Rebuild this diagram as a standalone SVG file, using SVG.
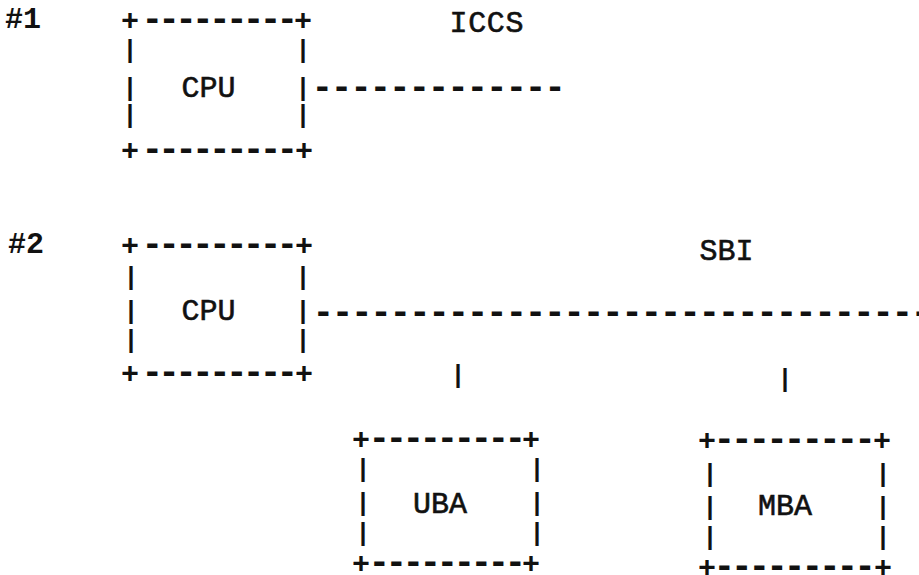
<svg xmlns="http://www.w3.org/2000/svg" width="919" height="575" viewBox="0 0 919 575">
<style>
text{font-family:"Liberation Mono","Courier New",monospace;fill:#111}
.p{font-size:30px;font-weight:bold;text-anchor:middle}
.b{font-size:25px;font-weight:bold;text-anchor:middle}
.d{font-size:36px;font-weight:bold;text-anchor:start}
.l{font-size:30px;stroke:#111;stroke-width:0.6;text-anchor:middle}
.n{font-size:30px;font-weight:bold;text-anchor:start}
</style>
<rect width="919" height="575" fill="#fff"/>
<g id="label1"><text class="n" x="5" y="28" textLength="36" lengthAdjust="spacing">#1</text></g>
<g id="label2"><text class="n" x="8" y="253" textLength="36" lengthAdjust="spacing">#2</text></g>
<g id="cpu1">
<text class="p" x="130" y="30.4">+</text><text class="d" x="141.4" y="29.9" style="letter-spacing:-4.7px">---------</text><text class="p" x="303" y="30.4">+</text>
<text class="b" x="130" y="58">|</text><text class="b" x="303" y="58">|</text>
<text class="b" x="130" y="96">|</text><text class="b" x="303" y="96">|</text>
<text class="l" x="208.5" y="97">CPU</text>
<text class="b" x="130" y="123">|</text><text class="b" x="303" y="123">|</text>
<text class="p" x="130" y="160.4">+</text><text class="d" x="141.4" y="159.9" style="letter-spacing:-4.7px">---------</text><text class="p" x="304" y="160.4">+</text>
</g>
<g id="cpu2">
<text class="p" x="130" y="255.4">+</text><text class="d" x="141.4" y="254.9" style="letter-spacing:-4.7px">---------</text><text class="p" x="304" y="255.4">+</text>
<text class="b" x="131" y="285">|</text><text class="b" x="303" y="285">|</text>
<text class="b" x="131" y="319">|</text><text class="b" x="303" y="319">|</text>
<text class="l" x="208.5" y="320">CPU</text>
<text class="b" x="131" y="348">|</text><text class="b" x="303" y="348">|</text>
<text class="p" x="130" y="383.4">+</text><text class="d" x="141.4" y="382.9" style="letter-spacing:-4.7px">---------</text><text class="p" x="304" y="383.4">+</text>
</g>
<g id="uba">
<text class="p" x="361" y="449.4">+</text><text class="d" x="368.4" y="448.9" style="letter-spacing:-4.6px">---------</text><text class="p" x="531" y="449.4">+</text>
<text class="b" x="363" y="477">|</text><text class="b" x="537" y="477">|</text>
<text class="b" x="363" y="511">|</text><text class="b" x="537" y="511">|</text>
<text class="l" x="440" y="513">UBA</text>
<text class="b" x="363" y="541">|</text><text class="b" x="537" y="541">|</text>
<text class="p" x="361" y="573.4">+</text><text class="d" x="368.4" y="572.9" style="letter-spacing:-4.6px">---------</text><text class="p" x="531" y="573.4">+</text>
</g>
<g id="mba">
<text class="p" x="707" y="450.4">+</text><text class="d" x="713.4" y="449.9" style="letter-spacing:-4px">---------</text><text class="p" x="882" y="450.4">+</text>
<text class="b" x="710" y="482">|</text><text class="b" x="883" y="482">|</text>
<text class="b" x="710" y="515">|</text><text class="b" x="883" y="515">|</text>
<text class="l" x="785" y="515">MBA</text>
<text class="b" x="710" y="545">|</text><text class="b" x="883" y="545">|</text>
<text class="p" x="707" y="577.4">+</text><text class="d" x="713.4" y="576.9" style="letter-spacing:-4px">---------</text><text class="p" x="883" y="577.4">+</text>
</g>
<g id="connectors">
<text class="l" x="486.5" y="32" textLength="74" lengthAdjust="spacing">ICCS</text>
<text class="d" x="311.4" y="97.9" style="letter-spacing:-2.2px">-------------</text>
<text class="l" x="726.5" y="260">SBI</text>
<text class="d" x="312.4" y="322.9" style="letter-spacing:-2.3px">--------------------------------</text>
<text class="b" x="458" y="383">|</text>
<text class="b" x="785" y="387">|</text>
</g>
</svg>
